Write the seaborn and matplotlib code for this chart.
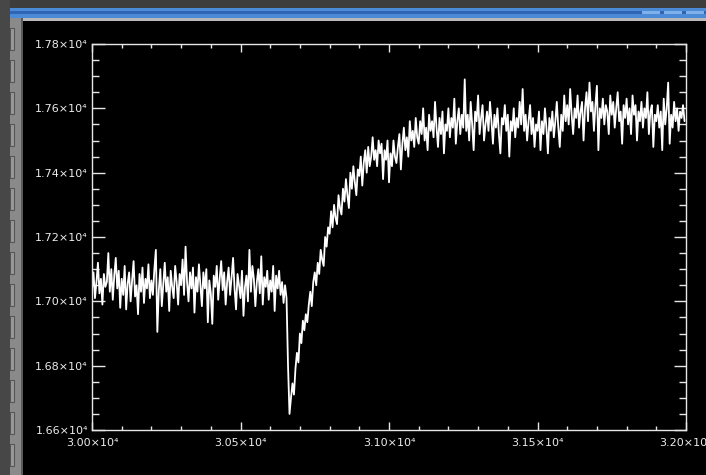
import matplotlib
matplotlib.use("Agg")
import matplotlib.pyplot as plt
from matplotlib.patches import Rectangle
from matplotlib.ticker import MultipleLocator, FixedLocator
import numpy as np
import pandas as pd
import seaborn as sns

# Sample spacing along the x axis (channel units)
x_start = 30000
x_step = 5

# Measured signal, one value per sample
signal = [
    17035, 17090, 17010, 17060, 17120, 17025, 17070, 16990, 17085, 17045,
    17060, 17150, 17030, 17100, 17005, 17080, 17135, 17040, 17095, 16980,
    17070, 17020, 17110, 16975, 17055, 17090, 17000, 17065, 17125, 17015,
    17050, 16960, 17085, 17030, 17105, 16995, 17070, 17040, 17115, 17010,
    17065, 17020, 17100, 17160, 16905, 17035, 17100, 16985, 17055, 17120,
    17030, 17075, 16970, 17095, 17045, 17010, 17110, 17060, 16990, 17085,
    17050, 17130, 17020, 17170, 17060, 17000, 17090, 17040, 17105, 16965,
    17075, 17030, 17115, 17050, 16985, 17090, 17040, 17100, 16935, 17065,
    17025, 16930, 17080, 17045, 17110, 17005, 17070, 17125, 17035, 17090,
    16990, 17060, 17105, 17020, 17075, 17135, 17040, 16975, 17085, 17050,
    17010, 17095, 16955, 17045, 17080, 17000, 17160, 17030, 17110, 17070,
    16985, 17060, 17100, 17025, 17140, 16990, 17075, 17045, 17095, 17005,
    17065, 17030, 17110, 16970, 17080, 17040, 17095, 17020, 17060, 16995,
    17050, 17010, 16800, 16650, 16700, 16745, 16710, 16790, 16840, 16810,
    16900, 16870, 16940, 16910, 16960, 16935, 16990, 17030, 16985, 17060,
    17090, 17050, 17120, 17085, 17160, 17130, 17110, 17200, 17170, 17230,
    17210, 17280, 17230, 17300, 17260, 17240, 17330, 17290, 17270, 17350,
    17310, 17380, 17330, 17290, 17400, 17350, 17420, 17370, 17330, 17410,
    17390, 17450, 17360, 17430, 17470, 17400, 17480, 17420, 17450, 17510,
    17440, 17470, 17420, 17500, 17460, 17490, 17380, 17470, 17440, 17500,
    17370, 17460, 17420, 17500, 17450, 17430, 17480, 17520, 17410, 17490,
    17540, 17470, 17510, 17450, 17560, 17500, 17530, 17480, 17570, 17510,
    17490, 17560, 17520, 17600, 17500, 17540, 17470, 17580, 17530, 17560,
    17510, 17620, 17540, 17480, 17570, 17520, 17590, 17460, 17550, 17530,
    17600, 17510, 17570, 17540, 17630, 17490, 17560, 17600, 17520, 17580,
    17540, 17690, 17530, 17580, 17500, 17620, 17550, 17470, 17590, 17560,
    17640, 17520, 17570, 17610, 17500, 17550, 17590, 17530, 17620, 17560,
    17490, 17580, 17540, 17600, 17520, 17460, 17570, 17550, 17610, 17530,
    17580, 17450, 17560, 17530, 17600, 17510, 17570, 17540, 17620, 17550,
    17660, 17530, 17580, 17500, 17560, 17610, 17520, 17570, 17480, 17550,
    17530, 17590, 17470, 17560, 17520, 17600, 17540, 17460, 17570, 17530,
    17590, 17510, 17560, 17620, 17540, 17480, 17580, 17530, 17640, 17560,
    17610, 17550, 17660, 17580, 17520, 17600, 17570, 17640, 17540, 17590,
    17620, 17500, 17600, 17650, 17560, 17680, 17590, 17620, 17530, 17610,
    17670, 17470, 17600, 17570, 17630, 17550, 17610, 17590, 17520, 17640,
    17580, 17620, 17540, 17600, 17650, 17560, 17590, 17490, 17610, 17570,
    17630, 17550, 17600, 17520, 17640, 17580, 17610, 17500, 17590, 17560,
    17620, 17540, 17600, 17570, 17650, 17520, 17590, 17610, 17480, 17580,
    17560, 17610, 17540, 17590, 17470, 17630, 17550, 17600, 17680, 17490,
    17580, 17540, 17620, 17560, 17600, 17530, 17590, 17570, 17610, 17560,
]

# Axis ranges and labelled ticks
x_limits = (30000, 32000)
y_limits = (16600, 17800)
x_major = [30000, 30500, 31000, 31500, 32000]
y_major = [16600, 16800, 17000, 17200, 17400, 17600, 17800]
x_tick_labels = ["3.00×10⁴", "3.05×10⁴", "3.10×10⁴", "3.15×10⁴", "3.20×10⁴"]
y_tick_labels = ["1.66×10⁴", "1.68×10⁴", "1.70×10⁴", "1.72×10⁴",
                 "1.74×10⁴", "1.76×10⁴", "1.78×10⁴"]

channel = [x_start + x_step * i for i in range(len(signal))]
df = pd.DataFrame({"channel": channel, "signal": signal})

sns.set_theme(style="ticks", rc={
    "figure.facecolor": "black",
    "axes.facecolor": "black",
    "axes.edgecolor": "#e6e6e6",
    "xtick.color": "#e6e6e6",
    "ytick.color": "#e6e6e6",
})
plt.rcParams["font.family"] = ["DejaVu Sans"]

W, H = 706, 475
fig = plt.figure(figsize=(W / 100, H / 100), dpi=100)


def px_rect(x0, y0, w, h, **kw):
    """Rectangle given in pixel coordinates from the top-left corner."""
    r = Rectangle((x0 / W, 1 - (y0 + h) / H), w / W, h / H,
                  transform=fig.transFigure, **kw)
    fig.patches.append(r)
    return r


# Window frame around the plot area
px_rect(0, 0, W, 8, facecolor="#3d3d3d", edgecolor="none")
px_rect(0, 8, W, 10, facecolor="#4a8ad6", edgecolor="none")
px_rect(0, 11, W, 3, facecolor="#2f66b4", edgecolor="none")
px_rect(0, 18, W, 3, facecolor="#b9b9b9", edgecolor="none")
for bx in (642, 664, 686):
    px_rect(bx, 11, 18, 3, facecolor="#7fb0ea", edgecolor="none")
px_rect(0, 0, 10, H, facecolor="#474747", edgecolor="none")
px_rect(10, 18, 13, H - 18, facecolor="#8a8a8a", edgecolor="none")
px_rect(21, 18, 2, H - 18, facecolor="#5a5a5a", edgecolor="none")
for by in range(28, 460, 32):
    px_rect(10, by, 4, 22, facecolor="#9a9a9a", edgecolor="#555555",
            linewidth=0.8)

ax = fig.add_axes([92 / W, 1 - 430 / H, 594 / W, 386 / H])
sns.lineplot(data=df, x="channel", y="signal", ax=ax, color="white",
             linewidth=1.3, estimator=None, sort=False)

ax.set_xlim(*x_limits)
ax.set_ylim(*y_limits)
ax.set_xlabel("")
ax.set_ylabel("")

ax.xaxis.set_major_locator(FixedLocator(x_major))
ax.yaxis.set_major_locator(FixedLocator(y_major))
ax.xaxis.set_minor_locator(MultipleLocator(100))
ax.yaxis.set_minor_locator(MultipleLocator(50))
ax.set_xticklabels(x_tick_labels)
ax.set_yticklabels(y_tick_labels)

ax.tick_params(axis="x", which="major", direction="in", length=6, width=1,
               top=True, bottom=True, labelsize=8, labelcolor="#ececec", pad=6)
ax.tick_params(axis="x", which="minor", direction="in", length=3, width=1,
               top=True, bottom=True)
ax.tick_params(axis="y", which="major", direction="in", length=9, width=1,
               left=True, right=True, labelsize=8, labelcolor="#ececec", pad=3)
ax.tick_params(axis="y", which="minor", direction="in", length=5, width=1,
               left=True, right=True)
for s in ax.spines.values():
    s.set_visible(True)
    s.set_linewidth(1.0)
    s.set_color("#e6e6e6")

fig.savefig("out.png", dpi=100, facecolor="black")
